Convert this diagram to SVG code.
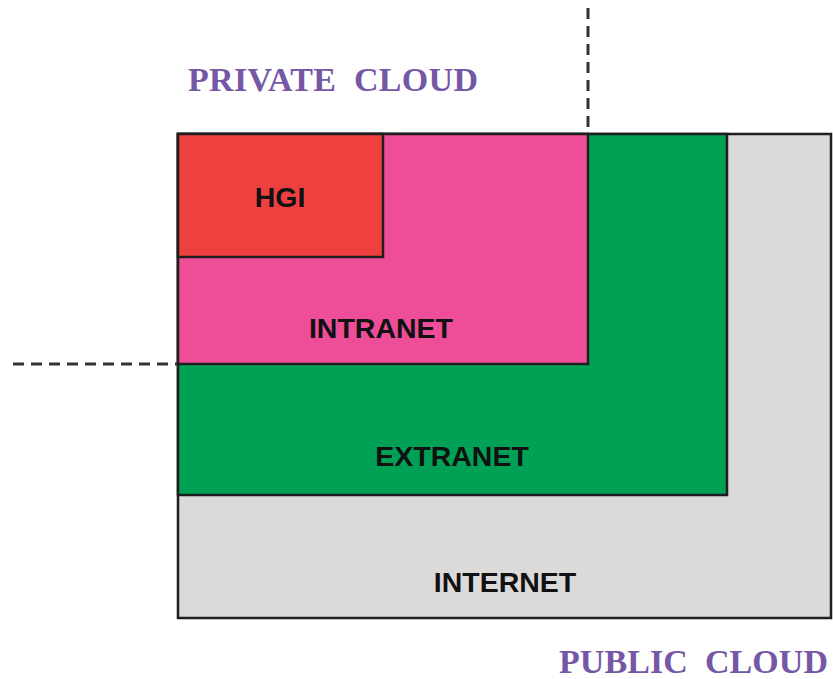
<svg xmlns="http://www.w3.org/2000/svg" width="833" height="679" viewBox="0 0 833 679">
<style>
.box{stroke:#1e1e1e;stroke-width:2.5}
.lbl{font-family:"Liberation Sans",Arial,sans-serif;font-weight:bold;font-size:28.5px;fill:#111;text-anchor:middle}
.cloud{font-family:"Liberation Serif","Times New Roman",serif;font-weight:bold;font-size:34px;fill:#7557a6}
.dash{stroke:#333;stroke-width:3;stroke-dasharray:11 7;fill:none}
</style>
<rect width="833" height="679" fill="#fff"/>
<g id="internet">
<rect class="box" x="178" y="134" width="653" height="484" fill="#dcdad9"/>
<text class="lbl" x="505" y="592">INTERNET</text>
</g>
<g id="extranet">
<rect class="box" x="178" y="134" width="549" height="361" fill="#00a155"/>
<text class="lbl" x="452" y="466">EXTRANET</text>
</g>
<g id="intranet">
<rect class="box" x="178" y="134" width="410" height="230" fill="#ee4d98"/>
<text class="lbl" x="381" y="338">INTRANET</text>
</g>
<g id="hgi">
<rect class="box" x="178" y="134" width="205" height="123" fill="#ef4040"/>
<text class="lbl" x="280" y="207">HGI</text>
</g>
<g id="connectors">
<line class="dash" x1="588" y1="8" x2="588" y2="133"/>
<line class="dash" x1="13" y1="364" x2="177" y2="364"/>
</g>
<g id="labels">
<text class="cloud" x="188" y="91" textLength="290" xml:space="preserve">PRIVATE  CLOUD</text>
<text class="cloud" x="559" y="673" textLength="269" xml:space="preserve">PUBLIC  CLOUD</text>
</g>
</svg>
